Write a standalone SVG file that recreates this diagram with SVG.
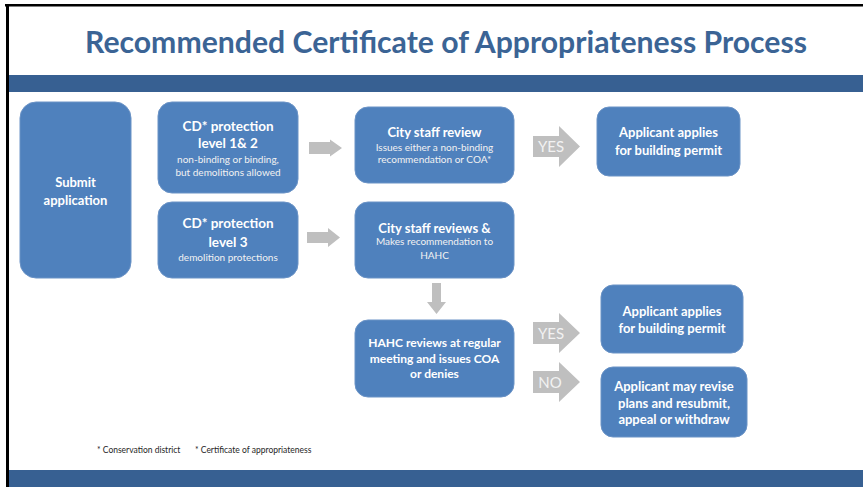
<svg xmlns="http://www.w3.org/2000/svg" width="863" height="487" viewBox="0 0 863 487">
  <defs>
    <style>
      .node { fill: #4F81BD; stroke: #6B93C6; stroke-width: 1; }
      .arrow { fill: #BFBFBF; }
      .h { font-family: Lato, "Liberation Sans", sans-serif; font-weight: bold; fill: #FFFFFF; text-anchor: middle; }
      .s { font-family: Lato, "Liberation Sans", sans-serif; fill: #F2F2F2; text-anchor: middle; font-size: 10px; }
      .lbl { font-family: Lato, "Liberation Sans", sans-serif; fill: #F2F2F2; text-anchor: middle; font-size: 15px; }
      .band { fill: #376092; }
    </style>
  </defs>

  <!-- slide background and frame -->
  <rect x="0" y="0" width="863" height="487" fill="#FFFFFF"/>
  <rect x="5" y="4" width="858" height="2.5" fill="#000000"/>
  <rect x="6" y="4" width="3" height="483" fill="#000000"/>

  <!-- title -->
  <text x="446" y="53" font-family="Lato, 'Liberation Sans', sans-serif" font-weight="bold" font-size="30" fill="#3B6495" text-anchor="middle" textLength="722" lengthAdjust="spacingAndGlyphs">Recommended Certificate of Appropriateness Process</text>

  <!-- header and footer bands -->
  <rect class="band" x="9" y="75" width="854" height="17"/>
  <rect class="band" x="9" y="470" width="854" height="17"/>

  <!-- connectors -->
  <g id="connectors">
    <polygon class="arrow" points="309,142 330,142 330,139.5 342,148 330,156.5 330,154 309,154"/>
    <polygon class="arrow" points="307,232 328,232 328,228 340,237.5 328,247 328,243 307,243"/>
    <polygon class="arrow" points="533,136 559,136 559,126 580,146.5 559,167 559,157 533,157"/>
    <polygon class="arrow" points="432,283 441,283 441,302 446,302 436.5,314 427,302 432,302"/>
    <polygon class="arrow" points="533,322 559,322 559,313 580,333 559,353 559,344 533,344"/>
    <polygon class="arrow" points="533,371 559,371 559,362 580,382 559,402 559,393 533,393"/>
    <text class="lbl" x="551" y="152">YES</text>
    <text class="lbl" x="551" y="339">YES</text>
    <text class="lbl" x="550" y="388">NO</text>
  </g>

  <g id="submit">
    <rect class="node" x="20" y="102" width="111" height="176" rx="16"/>
    <text class="h" x="75.5" font-size="13"><tspan x="75.5" y="187">Submit</tspan><tspan x="75.5" y="205">application</tspan></text>
  </g>

  <g id="cd-level-1-2">
    <rect class="node" x="158" y="102" width="140" height="91" rx="14"/>
    <text class="h" font-size="13.5"><tspan x="228" y="131">CD* protection</tspan><tspan x="228" y="148">level 1&amp; 2</tspan></text>
    <text class="s"><tspan x="228" y="163">non-binding or binding,</tspan><tspan x="228" y="176">but demolitions allowed</tspan></text>
  </g>

  <g id="cd-level-3">
    <rect class="node" x="158" y="202" width="140" height="76" rx="14"/>
    <text class="h" font-size="13.5"><tspan x="228" y="228">CD* protection</tspan><tspan x="228" y="247">level 3</tspan></text>
    <text class="s"><tspan x="228" y="261">demolition protections</tspan></text>
  </g>

  <g id="city-staff-review">
    <rect class="node" x="355" y="107" width="159" height="76" rx="13"/>
    <text class="h" x="434.5" y="137" font-size="13">City staff review</text>
    <text class="s"><tspan x="434.5" y="151">Issues either a non-binding</tspan><tspan x="434.5" y="163">recommendation or COA*</tspan></text>
  </g>

  <g id="city-staff-reviews">
    <rect class="node" x="355" y="202" width="159" height="76" rx="13"/>
    <text class="h" x="434.5" y="233" font-size="13">City staff reviews &amp;</text>
    <text class="s"><tspan x="434.5" y="245">Makes recommendation to</tspan><tspan x="434.5" y="259">HAHC</tspan></text>
  </g>

  <g id="hahc-review">
    <rect class="node" x="355" y="320" width="159" height="77" rx="13"/>
    <text class="h" font-size="12"><tspan x="434.5" y="347">HAHC reviews at regular</tspan><tspan x="434.5" y="363">meeting and issues COA</tspan><tspan x="434.5" y="378">or denies</tspan></text>
  </g>

  <g id="permit-1">
    <rect class="node" x="597" y="107" width="143" height="69" rx="12"/>
    <text class="h" font-size="13"><tspan x="668.5" y="137">Applicant applies</tspan><tspan x="668.5" y="155">for building permit</tspan></text>
  </g>

  <g id="permit-2">
    <rect class="node" x="601" y="285" width="142" height="68" rx="12"/>
    <text class="h" font-size="13"><tspan x="672" y="316">Applicant applies</tspan><tspan x="672" y="333">for building permit</tspan></text>
  </g>

  <g id="revise">
    <rect class="node" x="601" y="367" width="146" height="70" rx="12"/>
    <text class="h" font-size="13"><tspan x="674" y="391">Applicant may revise</tspan><tspan x="674" y="408">plans and resubmit,</tspan><tspan x="674" y="424">appeal or withdraw</tspan></text>
  </g>

  <!-- footnotes -->
  <g id="footnotes" font-family="Lato, 'Liberation Sans', sans-serif" font-size="8.5" fill="#262626">
    <text x="97" y="453">*  Conservation district</text>
    <text x="195" y="453">* Certificate of appropriateness</text>
  </g>
</svg>
